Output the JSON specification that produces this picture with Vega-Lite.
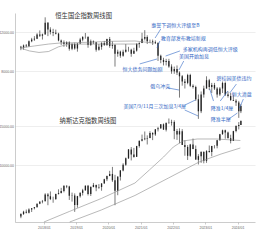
{
"$schema":"https://vega.github.io/schema/vega-lite/v6.json",
"width":240,"height":209,
"autosize":{"type":"none"},
"padding":{"left":15,"top":13,"right":15,"bottom":18},
"background":"white",
"config":{"view":{"stroke":null},"font":"Noto Sans CJK SC",
 "axis":{"labelFontSize":3.5,"labelColor":"#666","labelFont":"Liberation Sans","gridColor":"#e3e3e3","gridWidth":0.6,"domainColor":"#aaa","domainWidth":0.6,"ticks":false,"labelPadding":1.5,"title":null}},
"datasets":{
"hs":[
{"d":"2017-04-15","o":10300,"h":10400,"l":9950,"c":10200},
{"d":"2017-05-15","o":10200,"h":10550,"l":10000,"c":10450},
{"d":"2017-06-15","o":10450,"h":10600,"l":10250,"c":10360},
{"d":"2017-07-15","o":10360,"h":11000,"l":10300,"c":10900},
{"d":"2017-08-15","o":10900,"h":11300,"l":10800,"c":11100},
{"d":"2017-09-15","o":11100,"h":11500,"l":10950,"c":11200},
{"d":"2017-10-15","o":11200,"h":11850,"l":11150,"c":11700},
{"d":"2017-11-15","o":11700,"h":12200,"l":11400,"c":11550},
{"d":"2017-12-15","o":11550,"h":11800,"l":11100,"c":11700},
{"d":"2018-01-15","o":11700,"h":13960,"l":11700,"c":13200},
{"d":"2018-02-15","o":13200,"h":13300,"l":11500,"c":12300},
{"d":"2018-03-15","o":12300,"h":12600,"l":11700,"c":12000},
{"d":"2018-04-15","o":12000,"h":12400,"l":11500,"c":11900},
{"d":"2018-05-15","o":11900,"h":12300,"l":11700,"c":11800},
{"d":"2018-06-15","o":11800,"h":11900,"l":10900,"c":11000},
{"d":"2018-07-15","o":11000,"h":11100,"l":10500,"c":10800},
{"d":"2018-08-15","o":10800,"h":11000,"l":10300,"c":10600},
{"d":"2018-09-15","o":10600,"h":10900,"l":10300,"c":10800},
{"d":"2018-10-15","o":10800,"h":10900,"l":9900,"c":10100},
{"d":"2018-11-15","o":10100,"h":10700,"l":9950,"c":10600},
{"d":"2018-12-15","o":10600,"h":10750,"l":10000,"c":10120},
{"d":"2019-01-15","o":10120,"h":10700,"l":9800,"c":10650},
{"d":"2019-02-15","o":10650,"h":11300,"l":10600,"c":11100},
{"d":"2019-03-15","o":11100,"h":11500,"l":10900,"c":11400},
{"d":"2019-04-15","o":11400,"h":11880,"l":11200,"c":11400},
{"d":"2019-05-15","o":11400,"h":11500,"l":10200,"c":10500},
{"d":"2019-06-15","o":10500,"h":11100,"l":10400,"c":10900},
{"d":"2019-07-15","o":10900,"h":11000,"l":10600,"c":10800},
{"d":"2019-08-15","o":10800,"h":10800,"l":9800,"c":10000},
{"d":"2019-09-15","o":10000,"h":10600,"l":9900,"c":10300},
{"d":"2019-10-15","o":10300,"h":10800,"l":10000,"c":10700},
{"d":"2019-11-15","o":10700,"h":10950,"l":10400,"c":10500},
{"d":"2019-12-15","o":10500,"h":11200,"l":10400,"c":11170},
{"d":"2020-01-15","o":11170,"h":11400,"l":10200,"c":10400},
{"d":"2020-02-15","o":10400,"h":10900,"l":10100,"c":10500},
{"d":"2020-03-15","o":10500,"h":10600,"l":8400,"c":9600},
{"d":"2020-04-15","o":9600,"h":10000,"l":9300,"c":9800},
{"d":"2020-05-15","o":9800,"h":9900,"l":9200,"c":9400},
{"d":"2020-06-15","o":9400,"h":10000,"l":9300,"c":9800},
{"d":"2020-07-15","o":9800,"h":10600,"l":9700,"c":10000},
{"d":"2020-08-15","o":10000,"h":10300,"l":9800,"c":10000},
{"d":"2020-09-15","o":10000,"h":10100,"l":9300,"c":9600},
{"d":"2020-10-15","o":9600,"h":10200,"l":9600,"c":9900},
{"d":"2020-11-15","o":9900,"h":10700,"l":9800,"c":10600},
{"d":"2020-12-15","o":10600,"h":10800,"l":10200,"c":10700},
{"d":"2021-01-15","o":10700,"h":11900,"l":10700,"c":11200},
{"d":"2021-02-15","o":11200,"h":12230,"l":11000,"c":11400},
{"d":"2021-03-15","o":11400,"h":11600,"l":10600,"c":10900},
{"d":"2021-04-15","o":10900,"h":11100,"l":10700,"c":10900},
{"d":"2021-05-15","o":10900,"h":11100,"l":10500,"c":10800},
{"d":"2021-06-15","o":10800,"h":11000,"l":10600,"c":10700},
{"d":"2021-07-15","o":10700,"h":10800,"l":8900,"c":9400},
{"d":"2021-08-15","o":9400,"h":9500,"l":8700,"c":9000},
{"d":"2021-09-15","o":9000,"h":9200,"l":8500,"c":8800},
{"d":"2021-10-15","o":8800,"h":9100,"l":8500,"c":8900},
{"d":"2021-11-15","o":8900,"h":9100,"l":8300,"c":8400},
{"d":"2021-12-15","o":8400,"h":8600,"l":7800,"c":8000},
{"d":"2022-01-15","o":8000,"h":8400,"l":7800,"c":8200},
{"d":"2022-02-15","o":8200,"h":8500,"l":7700,"c":7900},
{"d":"2022-03-15","o":7900,"h":8000,"l":6100,"c":7600},
{"d":"2022-04-15","o":7600,"h":7700,"l":6900,"c":7200},
{"d":"2022-05-15","o":7200,"h":7400,"l":6700,"c":7100},
{"d":"2022-06-15","o":7100,"h":7800,"l":7000,"c":7700},
{"d":"2022-07-15","o":7700,"h":7800,"l":6800,"c":6900},
{"d":"2022-08-15","o":6900,"h":7000,"l":6700,"c":6800},
{"d":"2022-09-15","o":6800,"h":6900,"l":5900,"c":6000},
{"d":"2022-10-15","o":6000,"h":6300,"l":4900,"c":5300},
{"d":"2022-11-15","o":5300,"h":6500,"l":5200,"c":6300},
{"d":"2022-12-15","o":6300,"h":6900,"l":6100,"c":6700},
{"d":"2023-01-15","o":6700,"h":7600,"l":6700,"c":7300},
{"d":"2023-02-15","o":7300,"h":7400,"l":6600,"c":6800},
{"d":"2023-03-15","o":6800,"h":7100,"l":6400,"c":6950},
{"d":"2023-04-15","o":6950,"h":7100,"l":6600,"c":6700},
{"d":"2023-05-15","o":6700,"h":6800,"l":6100,"c":6300},
{"d":"2023-06-15","o":6300,"h":6800,"l":6200,"c":6700},
{"d":"2023-07-15","o":6700,"h":7200,"l":6400,"c":7100},
{"d":"2023-08-15","o":7100,"h":7200,"l":6200,"c":6300},
{"d":"2023-09-15","o":6300,"h":6500,"l":6100,"c":6200},
{"d":"2023-10-15","o":6200,"h":6400,"l":5900,"c":5950},
{"d":"2023-11-15","o":5950,"h":6300,"l":5900,"c":5900},
{"d":"2023-12-15","o":5900,"h":6000,"l":5600,"c":5800},
{"d":"2024-01-15","o":5800,"h":5900,"l":4950,"c":5300},
{"d":"2024-02-08","o":5300,"h":5700,"l":5200,"c":5600}
],
"nq":[
{"d":"2017-04-15","o":5900,"h":6100,"l":5800,"c":6050},
{"d":"2017-05-15","o":6050,"h":6260,"l":6000,"c":6200},
{"d":"2017-06-15","o":6200,"h":6340,"l":6090,"c":6140},
{"d":"2017-07-15","o":6140,"h":6420,"l":6090,"c":6350},
{"d":"2017-08-15","o":6350,"h":6440,"l":6180,"c":6430},
{"d":"2017-09-15","o":6430,"h":6500,"l":6350,"c":6500},
{"d":"2017-10-15","o":6500,"h":6750,"l":6480,"c":6730},
{"d":"2017-11-15","o":6730,"h":6920,"l":6700,"c":6870},
{"d":"2017-12-15","o":6870,"h":7000,"l":6760,"c":6900},
{"d":"2018-01-15","o":6900,"h":7500,"l":6900,"c":7410},
{"d":"2018-02-15","o":7410,"h":7510,"l":6630,"c":7270},
{"d":"2018-03-15","o":7270,"h":7640,"l":6990,"c":7060},
{"d":"2018-04-15","o":7060,"h":7240,"l":6800,"c":7070},
{"d":"2018-05-15","o":7070,"h":7470,"l":7000,"c":7440},
{"d":"2018-06-15","o":7440,"h":7810,"l":7400,"c":7510},
{"d":"2018-07-15","o":7510,"h":7930,"l":7480,"c":7670},
{"d":"2018-08-15","o":7670,"h":8130,"l":7570,"c":8110},
{"d":"2018-09-15","o":8110,"h":8130,"l":7900,"c":8050},
{"d":"2018-10-15","o":8050,"h":8100,"l":7000,"c":7300},
{"d":"2018-11-15","o":7300,"h":7550,"l":6880,"c":7330},
{"d":"2018-12-15","o":7330,"h":7490,"l":6190,"c":6640},
{"d":"2019-01-15","o":6640,"h":7300,"l":6460,"c":7280},
{"d":"2019-02-15","o":7280,"h":7560,"l":7170,"c":7530},
{"d":"2019-03-15","o":7530,"h":7850,"l":7330,"c":7730},
{"d":"2019-04-15","o":7730,"h":8140,"l":7700,"c":8100},
{"d":"2019-05-15","o":8100,"h":8170,"l":7330,"c":7450},
{"d":"2019-06-15","o":7450,"h":8060,"l":7290,"c":8000},
{"d":"2019-07-15","o":8000,"h":8340,"l":7970,"c":8175},
{"d":"2019-08-15","o":8175,"h":8200,"l":7660,"c":7960},
{"d":"2019-09-15","o":7960,"h":8240,"l":7850,"c":8000},
{"d":"2019-10-15","o":8000,"h":8330,"l":7700,"c":8290},
{"d":"2019-11-15","o":8290,"h":8710,"l":8290,"c":8670},
{"d":"2019-12-15","o":8670,"h":9000,"l":8500,"c":8970},
{"d":"2020-01-15","o":8970,"h":9450,"l":8940,"c":9150},
{"d":"2020-02-15","o":9150,"h":9840,"l":8430,"c":8570},
{"d":"2020-03-15","o":8570,"h":9070,"l":6630,"c":7700},
{"d":"2020-04-15","o":7700,"h":8950,"l":7350,"c":8890},
{"d":"2020-05-15","o":8890,"h":9520,"l":8550,"c":9490},
{"d":"2020-06-15","o":9490,"h":10220,"l":9400,"c":10060},
{"d":"2020-07-15","o":10060,"h":10840,"l":9950,"c":10750},
{"d":"2020-08-15","o":10750,"h":11830,"l":10680,"c":11780},
{"d":"2020-09-15","o":11780,"h":12070,"l":10520,"c":11170},
{"d":"2020-10-15","o":11170,"h":11970,"l":10820,"c":10910},
{"d":"2020-11-15","o":10910,"h":12230,"l":10960,"c":12200},
{"d":"2020-12-15","o":12200,"h":12900,"l":12000,"c":12890},
{"d":"2021-01-15","o":12890,"h":13730,"l":12800,"c":13070},
{"d":"2021-02-15","o":13070,"h":14175,"l":12950,"c":13190},
{"d":"2021-03-15","o":13190,"h":13620,"l":12400,"c":13250},
{"d":"2021-04-15","o":13250,"h":14210,"l":13220,"c":13960},
{"d":"2021-05-15","o":13960,"h":14070,"l":12970,"c":13750},
{"d":"2021-06-15","o":13750,"h":14530,"l":13550,"c":14500},
{"d":"2021-07-15","o":14500,"h":14860,"l":14180,"c":14670},
{"d":"2021-08-15","o":14670,"h":15290,"l":14550,"c":15260},
{"d":"2021-09-15","o":15260,"h":15400,"l":14430,"c":14450},
{"d":"2021-10-15","o":14450,"h":15500,"l":14180,"c":15500},
{"d":"2021-11-15","o":15500,"h":16210,"l":15340,"c":15540},
{"d":"2021-12-15","o":15540,"h":16000,"l":15060,"c":15640},
{"d":"2022-01-15","o":15640,"h":15900,"l":13090,"c":14240},
{"d":"2022-02-15","o":14240,"h":14560,"l":13000,"c":13750},
{"d":"2022-03-15","o":13750,"h":14650,"l":12550,"c":14220},
{"d":"2022-04-15","o":14220,"h":14520,"l":12370,"c":12330},
{"d":"2022-05-15","o":12330,"h":12950,"l":11040,"c":12080},
{"d":"2022-06-15","o":12080,"h":12320,"l":10570,"c":11030},
{"d":"2022-07-15","o":11030,"h":12480,"l":10920,"c":12390},
{"d":"2022-08-15","o":12390,"h":13180,"l":11810,"c":11820},
{"d":"2022-09-15","o":11820,"h":12270,"l":10670,"c":10580},
{"d":"2022-10-15","o":10580,"h":11220,"l":10090,"c":10990},
{"d":"2022-11-15","o":10990,"h":11570,"l":10260,"c":11470},
{"d":"2022-12-15","o":11470,"h":11570,"l":10210,"c":10470},
{"d":"2023-01-15","o":10470,"h":11690,"l":10260,"c":11580},
{"d":"2023-02-15","o":11580,"h":12270,"l":11400,"c":11460},
{"d":"2023-03-15","o":11460,"h":12230,"l":10980,"c":12220},
{"d":"2023-04-15","o":12220,"h":12300,"l":11900,"c":12230},
{"d":"2023-05-15","o":12230,"h":13000,"l":11920,"c":12940},
{"d":"2023-06-15","o":12940,"h":13830,"l":12900,"c":13790},
{"d":"2023-07-15","o":13790,"h":14450,"l":13700,"c":14350},
{"d":"2023-08-15","o":14350,"h":14450,"l":13160,"c":14030},
{"d":"2023-09-15","o":14030,"h":14160,"l":13220,"c":13220},
{"d":"2023-10-15","o":13220,"h":13710,"l":12540,"c":12850},
{"d":"2023-11-15","o":12850,"h":14280,"l":12870,"c":14230},
{"d":"2023-12-15","o":14230,"h":15110,"l":14060,"c":15010},
{"d":"2024-01-15","o":15010,"h":15620,"l":14480,"c":15160},
{"d":"2024-02-08","o":15160,"h":15900,"l":15150,"c":15800}
],
"mahs":[
{"s":"a","d":"2017-04-05","v":10175},{"s":"a","d":"2017-09-14","v":10390},{"s":"a","d":"2018-02-24","v":10600},{"s":"a","d":"2018-07-03","v":10710},{"s":"a","d":"2019-03-10","v":10770},{"s":"a","d":"2020-01-30","v":10900},{"s":"a","d":"2020-10-27","v":10940},{"s":"a","d":"2021-06-01","v":10700},
{"s":"b","d":"2017-04-05","v":10175},{"s":"b","d":"2017-07-21","v":9870},{"s":"b","d":"2017-11-06","v":9717},{"s":"b","d":"2018-02-24","v":9815},{"s":"b","d":"2018-06-12","v":10288},{"s":"b","d":"2018-09-28","v":10581},{"s":"b","d":"2019-06-27","v":10600},{"s":"b","d":"2020-05-18","v":10600},{"s":"b","d":"2020-12-20","v":10600}
],
"manq":[
{"s":"a","d":"2018-01-01","v":5576},{"s":"a","d":"2018-10-15","v":6213},{"s":"a","d":"2019-10-12","v":7104},{"s":"a","d":"2020-10-27","v":8334},{"s":"a","d":"2021-04-08","v":9530},{"s":"a","d":"2021-09-16","v":10900},{"s":"a","d":"2022-01-04","v":12080},{"s":"a","d":"2022-04-21","v":12850},{"s":"a","d":"2022-10-02","v":13120},{"s":"a","d":"2023-05-07","v":13120},{"s":"a","d":"2024-02-02","v":12920},
{"s":"b","d":"2018-10-19","v":5576},{"s":"b","d":"2019-10-12","v":6310},{"s":"b","d":"2020-10-27","v":7330},{"s":"b","d":"2021-11-10","v":8775},{"s":"b","d":"2022-10-23","v":10350},{"s":"b","d":"2023-06-29","v":11240},{"s":"b","d":"2024-02-02","v":11960}
],
"notes":[
{"t":"惠誉下调恒大评级至B","d":"2021-04-28","v":12898},
{"t":"教育部发布教培新规","d":"2021-08-15","v":11280},
{"t":"多家机构再调低恒大评级","d":"2022-04-21","v":10070},
{"t":"美国开始加息","d":"2022-03-09","v":9366},
{"t":"恒大债务问题加剧","d":"2020-06-08","v":8196},
{"t":"俄乌冲突","d":"2021-04-18","v":6874},
{"t":"美国7/9/11月三次加息3/4厘","d":"2020-06-19","v":5596},
{"t":"碧桂园美债违约","d":"2023-05-07","v":7470},
{"t":"恒大清盘","d":"2023-10-27","v":6336},
{"t":"降准1/4厘","d":"2023-03-03","v":5479},
{"t":"降准半厘","d":"2023-03-03","v":4893}
],
"arrows":[
{"d":"2021-08-15","v":12377,"d2":"2021-06-12","v2":11280},
{"d":"2021-08-05","v":10937,"d2":"2021-07-04","v2":10175},
{"d":"2022-03-20","v":9870,"d2":"2021-10-09","v2":9366},
{"d":"2022-05-02","v":8897,"d2":"2022-03-09","v2":8113},
{"d":"2020-12-20","v":8634,"d2":"2021-07-04","v2":9085},
{"d":"2021-11-10","v":6735,"d2":"2022-03-09","v2":6598},
{"d":"2022-05-13","v":5645,"d2":"2022-09-10","v2":5951},
{"d":"2022-05-13","v":5370,"d2":"2022-10-13","v2":5047},
{"d":"2023-12-19","v":7017,"d2":"2023-10-05","v2":6398},
{"d":"2024-03-07","v":6012,"d2":"2024-01-22","v2":5479},
{"d":"2023-04-04","v":5890,"d2":"2023-02-20","v2":6667},
{"d":"2023-06-19","v":5890,"d2":"2023-09-13","v2":6532},
{"d":"2023-09-24","v":4893,"d2":"2023-12-31","v2":5206}
],
"titles":[
{"t":"恒生国企指数周线图","d":"2019-03-26","v":14152},
{"t":"纳斯达克指数周线图","d":"2019-05-14","v":4770}
]
},
"encoding":{"x":{"field":"d","type":"temporal","scale":{"domain":["2017-04-05","2024-05-21"],"nice":false},
 "axis":{"format":"%Y/%m","grid":false,"ticks":true,"tickSize":2,"tickColor":"#999","tickWidth":0.5,"labelPadding":1,
  "values":[{"year":2018,"month":1,"date":1},{"year":2019,"month":1,"date":1},{"year":2020,"month":1,"date":1},{"year":2021,"month":1,"date":1},{"year":2022,"month":1,"date":1},{"year":2023,"month":1,"date":1},{"year":2024,"month":1,"date":1}]}}},
"layer":[
 {"layer":[
  {"data":{"name":"hs"},"mark":{"type":"rule","color":"#222","strokeWidth":0.6},
   "encoding":{"y":{"field":"l","type":"quantitative","scale":{"type":"log","domain":[1692,14597],"nice":false},
     "axis":{"orient":"left","values":[8000,12000],"format":".2f","grid":true,"domain":true}},"y2":{"field":"h"}}},
  {"data":{"name":"hs"},"mark":{"type":"bar","color":"#222","size":1.3},
   "encoding":{"y":{"field":"o","type":"quantitative"},"y2":{"field":"c"}}},
  {"data":{"name":"mahs"},"mark":{"type":"line","color":"#8a8a8a","strokeWidth":0.6},
   "encoding":{"y":{"field":"v","type":"quantitative"},"detail":{"field":"s"}}},
  {"data":{"name":"arrows"},"mark":{"type":"rule","color":"#2f66c4","strokeWidth":0.6},
   "encoding":{"y":{"field":"v","type":"quantitative"},"x2":{"field":"d2"},"y2":{"field":"v2"}}},
  {"data":{"name":"notes"},"mark":{"type":"text","color":"#2f66c4","fontSize":5,"align":"left","baseline":"middle","font":"Noto Sans CJK SC"},
   "encoding":{"y":{"field":"v","type":"quantitative"},"text":{"field":"t"}}},
  {"data":{"name":"titles"},"mark":{"type":"text","color":"#333","fontSize":6.3,"align":"center","baseline":"middle","font":"Noto Sans CJK SC"},
   "encoding":{"y":{"field":"v","type":"quantitative"},"text":{"field":"t"}}}
 ]},
 {"layer":[
  {"data":{"name":"nq"},"mark":{"type":"rule","color":"#222","strokeWidth":0.6},
   "encoding":{"y":{"field":"l","type":"quantitative","scale":{"type":"log","domain":[5576,48090],"nice":false},
     "axis":{"orient":"left","values":[10000,15000],"format":".2f","grid":true,"domain":false}},"y2":{"field":"h"}}},
  {"data":{"name":"nq"},"mark":{"type":"bar","color":"#222","size":1.3},
   "encoding":{"y":{"field":"o","type":"quantitative"},"y2":{"field":"c"}}},
  {"data":{"name":"manq"},"mark":{"type":"line","color":"#8a8a8a","strokeWidth":0.6},
   "encoding":{"y":{"field":"v","type":"quantitative"},"detail":{"field":"s"}}}
 ]}
],
"resolve":{"scale":{"y":"independent"},"axis":{"y":"independent"}}
}
